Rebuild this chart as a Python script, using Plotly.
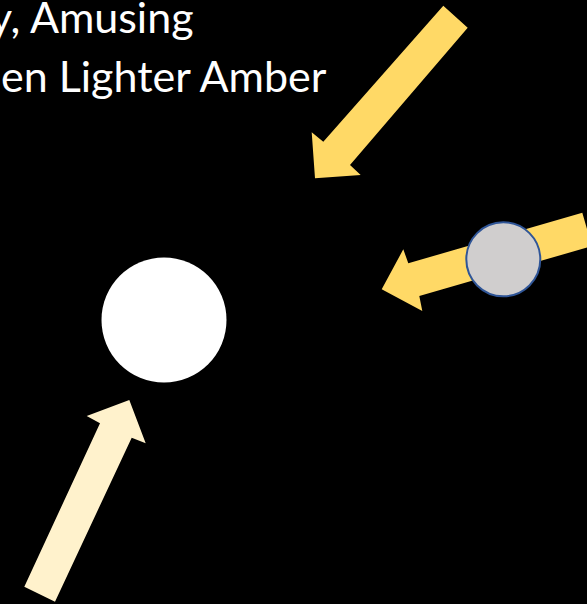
import plotly.graph_objects as go

# ---- data (canvas units: pixels, y downward) ----
text_lines = ["y, Amusing", "en Lighter Amber"]
text_right_x = [196, 329]
text_mid_y = [16, 75]

arrow_names = ["amber_diag", "amber_flat", "cream_up"]
arrow_colors = ["#FFD966", "#FFD966", "#FFF2CC"]
arrow_x = [
    [443.3, 467.7, 350.0, 360.7, 315.0, 311.7, 323.3],
    [381.7, 403.3, 408.3, 582.3, 591.9, 419.3, 422.3],
    [129.3, 145.7, 131.7, 55.0, 24.3, 100.0, 86.7],
]
arrow_y = [
    [5.7, 27.7, 165.0, 175.0, 178.3, 132.3, 141.7],
    [289.3, 249.3, 263.3, 212.7, 246.1, 296.0, 311.0],
    [400.0, 443.3, 437.7, 601.7, 586.7, 423.3, 416.0],
]

circle_cx = [164, 503.3]
circle_cy = [320, 259.3]
circle_r = [62.5, 37]
circle_fill = ["#FFFFFF", "#D0CECE"]
circle_line = ["#FFFFFF", "#2F5597"]
circle_line_w = [0, 2]

W, H = 587, 604

fig = go.Figure()
fig.add_trace(go.Scatter(x=[0, W], y=[0, H], mode="markers", marker=dict(opacity=0), hoverinfo="skip", showlegend=False))

for xs, ys, col in zip(arrow_x, arrow_y, arrow_colors):
    path = "M " + " L ".join(f"{x},{y}" for x, y in zip(xs, ys)) + " Z"
    fig.add_shape(type="path", path=path, xref="x", yref="y", fillcolor=col, line=dict(width=0), layer="below")

for cx, cy, r, fc, lc, lw in zip(circle_cx, circle_cy, circle_r, circle_fill, circle_line, circle_line_w):
    fig.add_shape(type="circle", xref="x", yref="y", x0=cx - r, x1=cx + r, y0=cy - r, y1=cy + r,
                  fillcolor=fc, line=dict(color=lc, width=lw), layer="above")

for t, x, y in zip(text_lines, text_right_x, text_mid_y):
    fig.add_annotation(text=t, x=x, y=y, xref="x", yref="y", xanchor="right", yanchor="middle",
                       showarrow=False, font=dict(family="Lato", size=43, color="#FFFFFF"))

fig.update_layout(
    width=W, height=H, margin=dict(l=0, r=0, t=0, b=0),
    paper_bgcolor="#000000", plot_bgcolor="#000000",
    xaxis=dict(range=[0, W], visible=False, fixedrange=True),
    yaxis=dict(range=[H, 0], visible=False, fixedrange=True),
    showlegend=False,
)

fig.write_html("out.html", config={"displayModeBar": False, "staticPlot": True},
               post_script="document.body.style.margin='0';document.body.style.background='#000';")
